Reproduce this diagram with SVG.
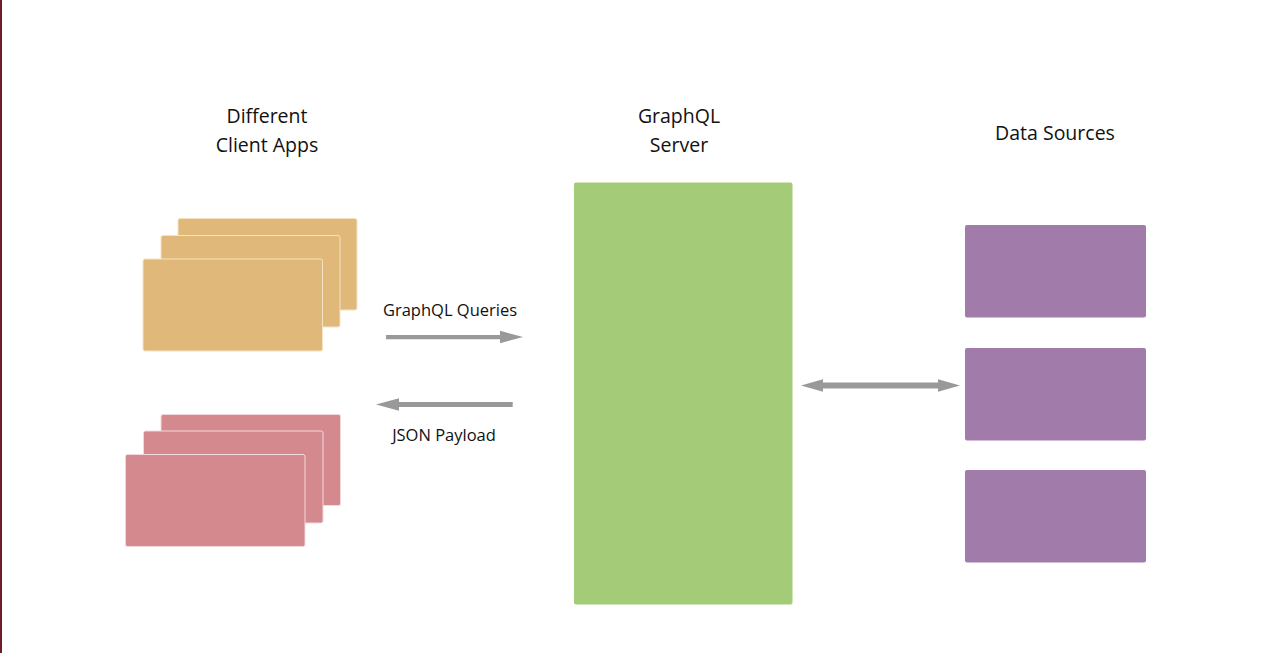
<svg xmlns="http://www.w3.org/2000/svg" width="1279" height="653" viewBox="0 0 1279 653">
<style>
.t{font-family:"Open Sans","Noto Sans","Liberation Sans",sans-serif;fill:#111;text-anchor:middle}
.h{font-size:19.5px}
.l{font-size:16.5px}
.y{fill:#E0B97A;stroke:#F3E3C5;stroke-width:1}
.p{fill:#D4898F;stroke:#F2D8DA;stroke-width:1}
.g{fill:#A3CB78}
.v{fill:#A17BA9}
.a{fill:#999999}
</style>
<rect x="0" y="0" width="1279" height="653" fill="#ffffff"/>
<rect x="0" y="0" width="2" height="653" fill="#6B1E2A"/>
<g id="label-clients"><text class="t h" x="267" y="123">Different</text><text class="t h" x="267" y="152">Client Apps</text></g>
<g id="label-server"><text class="t h" x="679" y="123">GraphQL</text><text class="t h" x="679" y="152">Server</text></g>
<g id="label-sources"><text class="t h" x="1055" y="140">Data Sources</text></g>
<g id="client-apps-yellow">
<rect class="y" x="178" y="218.5" width="179" height="91.5" rx="2"/>
<rect class="y" x="161" y="235.5" width="179" height="91.5" rx="2"/>
<rect class="y" x="143" y="259" width="179.5" height="92" rx="2"/>
</g>
<g id="client-apps-pink">
<rect class="p" x="161" y="414.5" width="179.5" height="91" rx="2"/>
<rect class="p" x="143.5" y="431" width="179.5" height="92" rx="2"/>
<rect class="p" x="125.5" y="454.5" width="179.5" height="92" rx="2"/>
</g>
<g id="graphql-server"><rect class="g" x="574" y="182.5" width="218.5" height="422" rx="2"/></g>
<g id="data-source-1"><rect class="v" x="965" y="225" width="181" height="92.5" rx="2"/></g>
<g id="data-source-2"><rect class="v" x="965" y="348" width="181" height="92.5" rx="2"/></g>
<g id="data-source-3"><rect class="v" x="965" y="470" width="181" height="92.5" rx="2"/></g>
<g id="connectors">
<polygon class="a" points="386,335 500,335 500,330.8 523,337 500,343.2 500,339.3 386,339.3"/>
<polygon class="a" points="512.7,402 399,402 399,398.3 376,404.5 399,410.7 399,407 512.7,407"/>
<polygon class="a" points="801,385.5 823,379.3 823,382.5 938,382.5 938,379.3 960,385.5 938,391.7 938,388.5 823,388.5 823,391.7"/>
</g>
<g id="edge-labels"><text class="t l" x="450" y="316">GraphQL Queries</text><text class="t l" x="444" y="441">JSON Payload</text></g>
</svg>
